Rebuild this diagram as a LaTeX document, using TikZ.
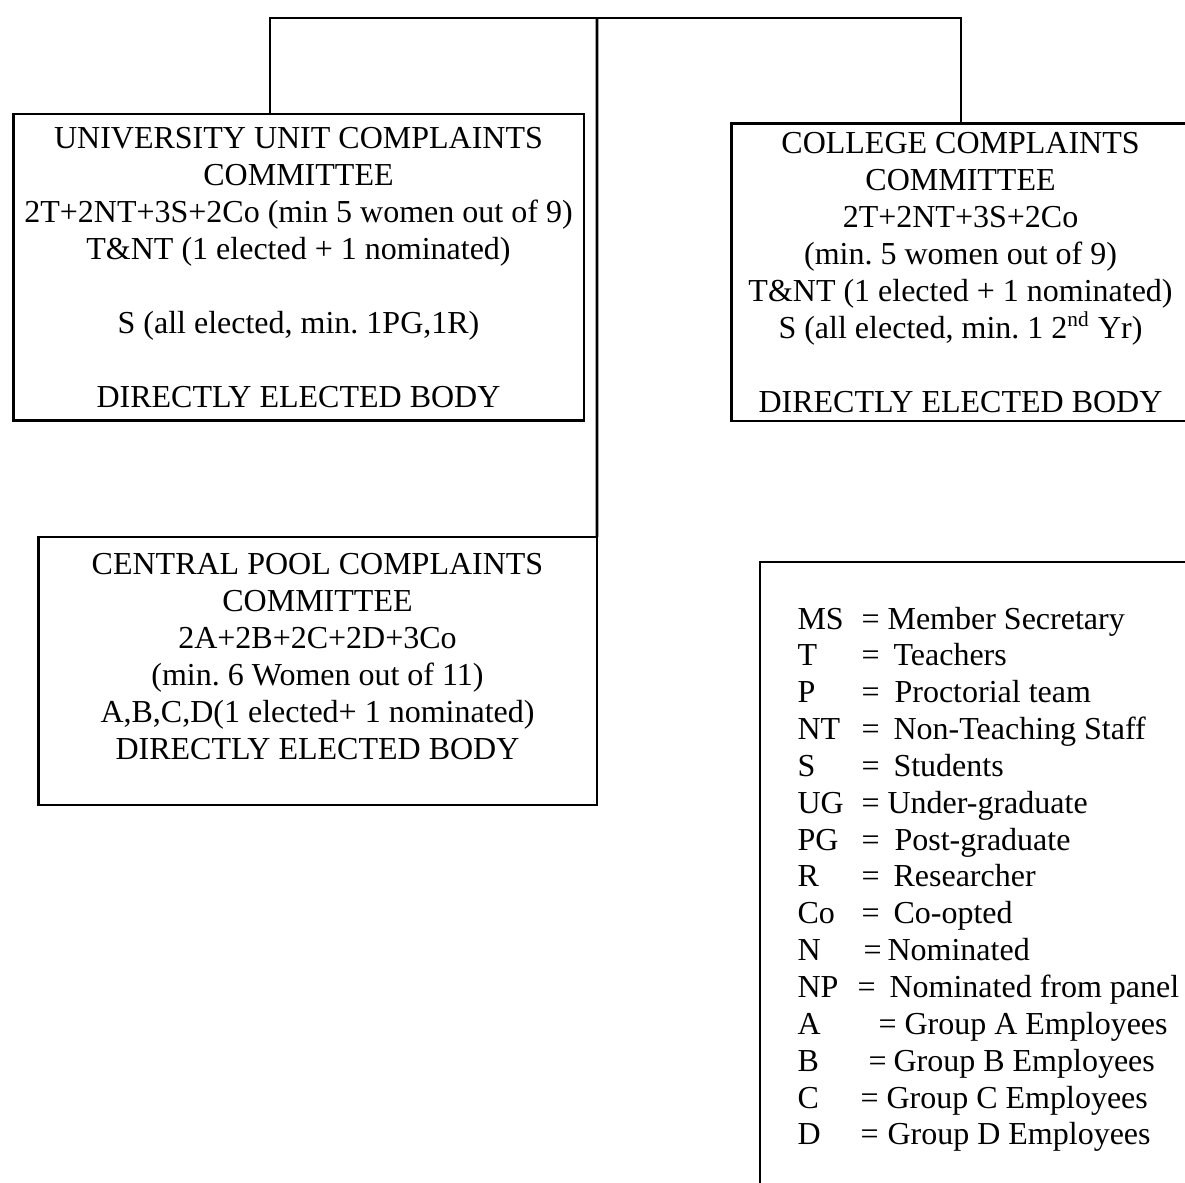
\documentclass[tikz,border=0pt]{standalone}
\usepackage{fontspec}
\setmainfont{Liberation Serif}
\usetikzlibrary{positioning}
\frenchspacing

\tikzset{
  cbox/.style={draw, line width=1.1pt, align=center, inner sep=1pt, outer sep=0pt, font=\fontsize{12pt}{13.9pt}\selectfont},
  link/.style={line width=1.1pt},
  keytext/.style={anchor=base west, inner sep=0pt, font=\fontsize{12pt}{13.9pt}\selectfont}
}

\begin{document}
\begin{tikzpicture}[x=0.375pt, y=-0.375pt]
    \useasboundingbox (0,0) rectangle (1185,1182);
    \node[cbox, minimum width=214.1pt, minimum height=115.1pt] (univ) at (298.5,267.5) {UNIVERSITY UNIT COMPLAINTS\\COMMITTEE\\2T+2NT+3S+2Co (min 5 women out of 9)\\T\&NT (1 elected + 1 nominated)\\[13.9pt]S (all elected, min. 1PG,1R)\\[13.9pt]DIRECTLY ELECTED BODY};
    \node[cbox, minimum width=172.1pt, minimum height=111.4pt] (coll) at (960.5,272.5) {COLLEGE COMPLAINTS\\COMMITTEE\\2T+2NT+3S+2Co\\(min. 5 women out of 9)\\T\&NT (1 elected + 1 nominated)\\S (all elected, min. 1 2\textsuperscript{nd} Yr)\\[13.9pt]DIRECTLY ELECTED BODY};
    \node[cbox, minimum width=209.6pt, minimum height=100.5pt] (pool) at (317.5,671) {CENTRAL POOL COMPLAINTS\\COMMITTEE\\2A+2B+2C+2D+3Co\\(min. 6 Women out of 11)\\A,B,C,D(1 elected+ 1 nominated)\\DIRECTLY ELECTED BODY\\[-3pt]~};
    \node[draw, line width=1.1pt, anchor=north west, inner sep=0pt, outer sep=0pt, minimum width=168.75pt, minimum height=243.75pt] (key) at (760,562) {};
    \foreach \ab/\ex/\tx/\txx [count=\i] in {MS/861/887/Member Secretary, T/861/893/Teachers, P/861/894/Proctorial team, NT/861/893/Non-Teaching Staff, S/861/893/Students, UG/861/887/Under-graduate, PG/861/894/Post-graduate, R/861/893/Researcher, Co/861/893/Co-opted, N/863/887/Nominated, NP/857/889/Nominated from panel, A/878/904/Group A Employees, B/868/893/Group B Employees, C/860/886/Group C Employees, D/860/887/Group D Employees}{
        \node[keytext] (ab\i) at (797,{629+36.85*(\i-1)}) {\ab};
        \node[keytext] (eq\i) at (\ex,{629+36.85*(\i-1)}) {=};
        \node[keytext] (tx\i) at (\tx,{629+36.85*(\i-1)}) {\txx};
    }
    \coordinate (hub) at (597,18);
    \coordinate (uu) at (270,114);
    \coordinate (cc) at (961,124);
    \draw[link] (uu) |- (hub) -| (cc);
    \draw[link] (hub) -- (pool.north east);
\end{tikzpicture}
\end{document}
